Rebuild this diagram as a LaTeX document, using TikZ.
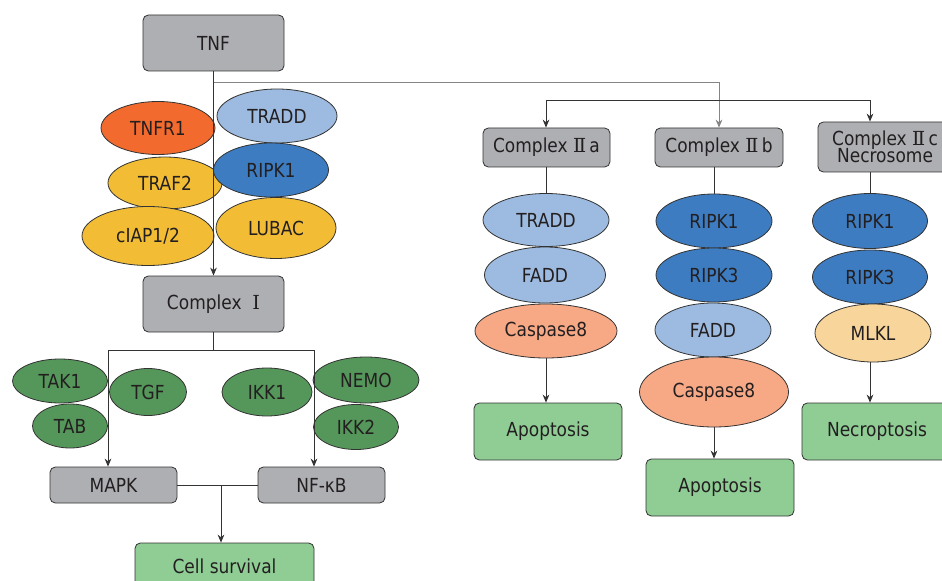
\documentclass[tikz,border=0pt]{standalone}
\usepackage{fontspec}
\setmainfont{DejaVu Sans}[FakeStretch=0.88]
\newfontfamily\romnum{DejaVu Serif}
\usetikzlibrary{positioning,arrows.meta,shapes.geometric}
\definecolor{boxgray}{HTML}{AEAFB3}
\definecolor{cellgreen}{HTML}{8FCD95}
\definecolor{tnfrorange}{HTML}{F26A2E}
\definecolor{lightblue}{HTML}{9DBBE0}
\definecolor{darkblue}{HTML}{3D7CC0}
\definecolor{amber}{HTML}{F2BD35}
\definecolor{leafgreen}{HTML}{55975A}
\definecolor{salmon}{HTML}{F7A986}
\definecolor{peach}{HTML}{F8D59A}
\definecolor{ink}{HTML}{231F20}
\definecolor{wire}{HTML}{333333}

\begin{document}
\begin{tikzpicture}[x=0.75pt,y=-0.75pt]
\tikzset{every node/.style={font=\fontsize{14.5}{16}\selectfont,text=ink}}
\tikzset{sz/.style 2 args={minimum width=#1*0.75pt,minimum height=#2*0.75pt}}
\tikzset{stage/.style={draw=wire,line width=0.6pt,rounded corners=4pt,fill=boxgray,inner sep=1pt,align=center}}
\tikzset{fate/.style={stage,fill=cellgreen}}
\tikzset{prot/.style={ellipse,draw=wire,line width=0.6pt,inner sep=0pt}}
\tikzset{link/.style={draw=wire,line width=0.7pt}}
\tikzset{arr/.style={link,-{Stealth[length=6pt,width=5pt]}}}
\useasboundingbox (0,0) rectangle (942,581);

% Complex I branch
\node[stage,sz={141}{56}] (tnf) at (213.5,43) {TNF};
\node[prot,fill=tnfrorange,sz={114}{53}] (tnfr) at (158,128) {TNFR1};
\node[prot,fill=lightblue,sz={120}{54}] (tradd) at (277,116) {TRADD};
\node[prot,fill=amber,sz={114}{52}] (traf) at (165,183) {TRAF2};
\node[prot,fill=darkblue,sz={115}{54}] (ripk) at (271,170) {RIPK1};
\node[prot,fill=amber,sz={132}{59}] (ciap) at (148,236) {cIAP1/2};
\node[prot,fill=amber,sz={120}{61}] (lubac) at (276,228) {LUBAC};
\node[stage,sz={141}{56}] (cI) at (213.5,304) {Complex\ \ {\romnum Ⅰ}};

\node[prot,fill=leafgreen,sz={95}{44}] (tak) at (60,381) {TAK1};
\node[prot,fill=leafgreen,sz={75}{44}] (tab) at (70,426) {TAB};
\node[prot,fill=leafgreen,sz={77}{47}] (tgf) at (148,392) {TGF};
\node[prot,fill=leafgreen,sz={90}{48}] (ikka) at (267,392) {IKK1};
\node[prot,fill=leafgreen,sz={106}{46}] (nemo) at (366,380) {NEMO};
\node[prot,fill=leafgreen,sz={85}{45}] (ikkb) at (356,427) {IKK2};
\node[stage,sz={127}{36}] (mapk) at (113.5,485) {MAPK};
\node[stage,sz={127}{36}] (nfkb) at (321.5,485) {NF-κB};
\node[fate,sz={179}{46}] (surv) at (224.5,566) {Cell survival};

% Complex II branches
\node[stage,sz={127}{39}] (c2a) at (546.5,147.5) {Complex\ {\romnum Ⅱ}\,a};
\node[stage,sz={128}{39}] (c2b) at (719,147.5) {Complex\ {\romnum Ⅱ}\,b};
\node[stage,sz={134}{50},inner sep=0pt] (c2c) at (885,147) {Complex\ {\romnum Ⅱ}\,c\\[-3pt]Necrosome};

\node[prot,fill=lightblue,sz={126}{53}] (traddA) at (546,220) {TRADD};
\node[prot,fill=lightblue,sz={121}{56}] (faddA) at (545,275) {FADD};
\node[prot,fill=salmon,sz={142}{54}] (caspA) at (546,331) {Caspase8};
\node[fate,sz={148}{57}] (apopA) at (548,431.5) {Apoptosis};

\node[prot,fill=darkblue,sz={116}{54}] (ripkB) at (714,221) {RIPK1};
\node[prot,fill=darkblue,sz={116}{54}] (rippB) at (714,275) {RIPK3};
\node[prot,fill=lightblue,sz={116}{54}] (faddB) at (713,330) {FADD};
\node[prot,fill=salmon,sz={149}{70}] (caspB) at (714,392) {Caspase8};
\node[fate,sz={148}{57}] (apopB) at (720,487.5) {Apoptosis};

\node[prot,fill=darkblue,sz={115}{55}] (ripkC) at (870,221) {RIPK1};
\node[prot,fill=darkblue,sz={115}{54}] (rippC) at (870,277) {RIPK3};
\node[prot,fill=peach,sz={116}{58}] (mlkl) at (873,333) {MLKL};
\node[fate,sz={150}{57}] (necro) at (877,431.5) {Necroptosis};

% connectors
\coordinate (split) at (tnf.south |- 0,82);
\coordinate (fork) at (c2b.north |- 0,100);
\coordinate (cIfork) at (cI.south |- 0,350);
\coordinate (merge) at (221,485);
\draw[arr] (tnf.south) -- (cI.north);
\draw[arr,draw=wire!60] (split) -| (c2b.north);
\draw[arr] (fork) -| (c2a.north -| traddA);
\draw[arr] (fork) -| (c2c.north -| ripkC);
\draw[link] (cI.south) -- (cIfork);
\draw[arr] (cIfork) -| (mapk.north -| 108,0);
\draw[arr] (cIfork) -| (nfkb.north -| 314,0);
\draw[link] (mapk.east) -- (nfkb.west);
\draw[arr] (merge) -- (surv.north -| merge);
\draw[link] (c2a.south -| traddA) -- (traddA.north);
\draw[link] (c2b.south -| ripkB) -- (ripkB.north);
\draw[link] (c2c.south -| ripkC) -- (ripkC.north);
\draw[arr] (caspA.south) -- (apopA.north -| caspA.south);
\draw[arr] (caspB.south) -- (apopB.north -| caspB.south);
\draw[arr] (mlkl.south -| ripkC) -- (necro.north -| ripkC);
\end{tikzpicture}
\end{document}
